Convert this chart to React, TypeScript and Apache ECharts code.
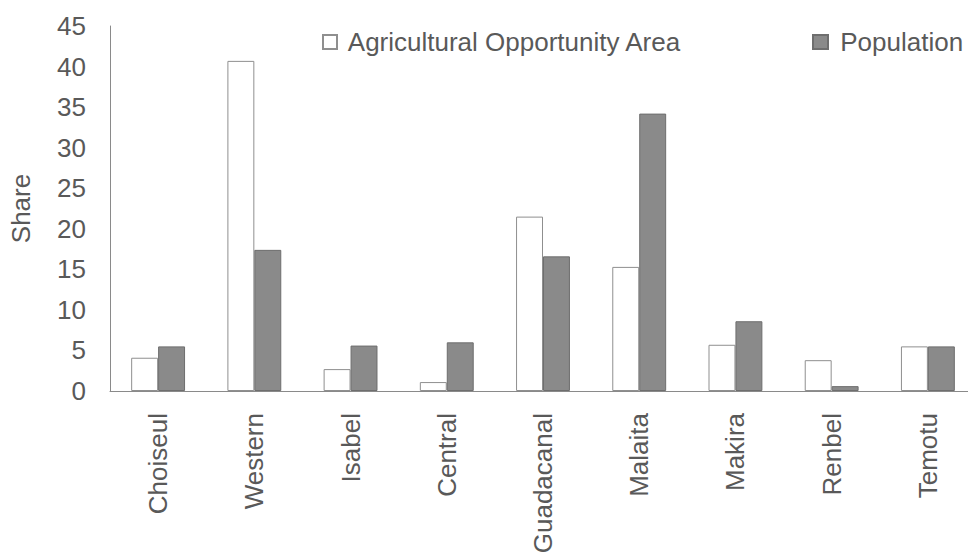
import React, { useEffect, useRef } from "react";
import * as echarts from "echarts";

// Provinces along the category axis
const provinces = [
  "Choiseul",
  "Western",
  "Isabel",
  "Central",
  "Guadacanal",
  "Malaita",
  "Makira",
  "Renbel",
  "Temotu",
];

// Share (%) of agricultural opportunity area by province
const opportunityArea = [4.1, 40.7, 2.7, 1.1, 21.5, 15.3, 5.7, 3.8, 5.5];

// Share (%) of population by province
const population = [5.5, 17.4, 5.6, 6.0, 16.6, 34.2, 8.6, 0.6, 5.5];

const AREA_NAME = "Agricultural Opportunity Area";
const POP_NAME = "Population";

const textColor = "#595959";
const font = "Liberation Sans, Arial, sans-serif";
const fontSize = 26;

export default function App() {
  const ref = useRef<HTMLDivElement>(null);

  useEffect(() => {
    if (!ref.current) return;
    const chart = echarts.init(ref.current, null, { renderer: "svg" });
    chart.setOption({
      animation: false,
      backgroundColor: "#ffffff",
      textStyle: { fontFamily: font },
      // the plot runs a little past the right edge of the visible frame
      grid: {
        left: 110,
        right: 0,
        top: 26,
        bottom: 163,
        containLabel: false,
        outerBoundsMode: "none",
      },
      legend: [
        {
          data: [AREA_NAME],
          left: 322,
          top: 29,
          padding: 0,
          icon: "rect",
          itemWidth: 14,
          itemHeight: 14,
          formatter: (n: string) => " " + n,
          textStyle: { color: textColor, fontSize, fontFamily: font },
        },
        {
          data: [POP_NAME],
          left: 812,
          top: 29,
          padding: 0,
          icon: "rect",
          itemWidth: 15,
          itemHeight: 14,
          formatter: (n: string) => " " + n,
          textStyle: { color: textColor, fontSize, fontFamily: font },
        },
      ],
      xAxis: {
        type: "category",
        data: provinces,
        axisLine: { lineStyle: { color: "#8a8a8a", width: 1 } },
        axisTick: { show: false },
        axisLabel: {
          rotate: 90,
          margin: 22,
          color: textColor,
          fontSize,
          fontFamily: font,
        },
      },
      yAxis: {
        type: "value",
        min: 0,
        max: 45,
        interval: 5,
        name: "Share",
        nameLocation: "middle",
        nameGap: 76,
        nameTextStyle: { color: textColor, fontSize, fontFamily: font },
        axisLine: { show: true, lineStyle: { color: "#8a8a8a", width: 1 } },
        axisTick: { show: false },
        splitLine: { show: false },
        axisLabel: {
          margin: 24,
          color: textColor,
          fontSize,
          fontFamily: font,
        },
      },
      series: [
        {
          name: AREA_NAME,
          type: "bar",
          data: opportunityArea,
          barGap: "0%",
          barCategoryGap: "44%",
          itemStyle: {
            color: "#ffffff",
            borderColor: "#8f8f8f",
            borderWidth: 1,
          },
        },
        {
          name: POP_NAME,
          type: "bar",
          data: population,
          itemStyle: {
            color: "#8a8a8a",
            borderColor: "#6e6e6e",
            borderWidth: 1,
          },
        },
      ],
    });
    return () => chart.dispose();
  }, []);

  return (
    <div
      style={{
        position: "fixed",
        left: 0,
        top: 0,
        width: 968,
        height: 554,
        overflow: "hidden",
        background: "#ffffff",
      }}
    >
      <div ref={ref} style={{ width: 976, height: 554 }} />
    </div>
  );
}
